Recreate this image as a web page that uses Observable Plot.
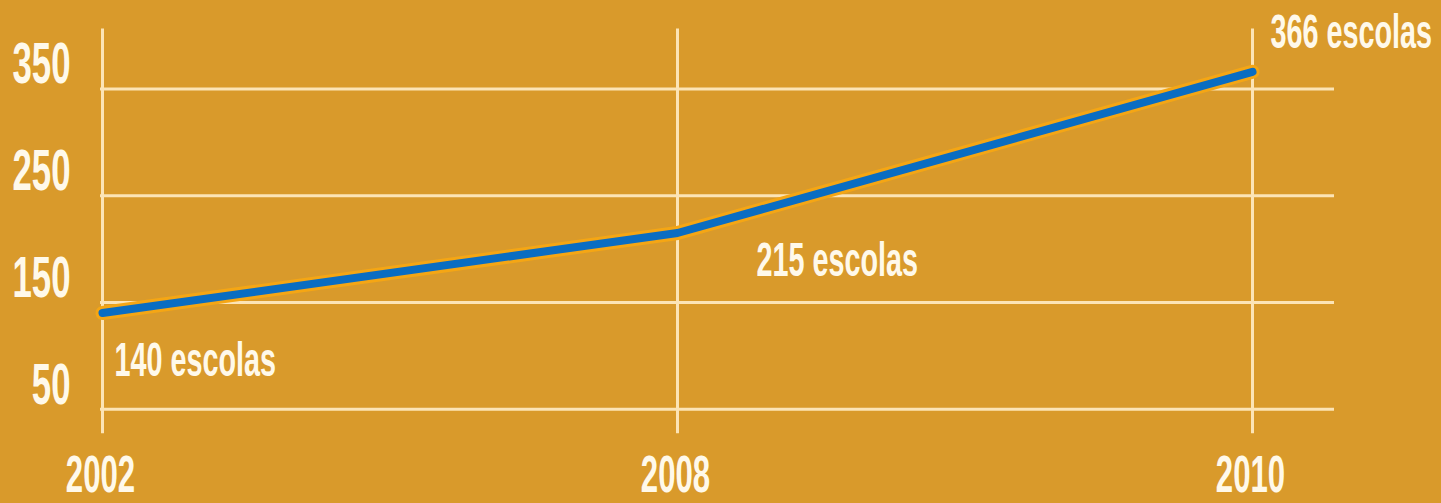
<!DOCTYPE html>
<html><head><meta charset="utf-8">
<script src="https://cdn.jsdelivr.net/npm/d3@7"></script>
<script src="https://cdn.jsdelivr.net/npm/@observablehq/plot@0.6"></script>
<style>
html,body{margin:0;padding:0;background:#d99a2b;overflow:hidden;}
</style></head><body>
<div id="chart"></div>
<script>
// ---- data ----
const years = ["2002", "2008", "2010"];
const schools = [140, 215, 366];
const annotations = ["140 escolas", "215 escolas", "366 escolas"];
const yTicks = [50, 150, 250, 350];
const yTickLabels = ["50", "150", "250", "350"];

const data = years.map((year, i) => ({year, value: schools[i], label: annotations[i]}));
const ticks = yTicks.map((v, i) => ({value: v, label: yTickLabels[i]}));

const font = "'Liberation Sans', Arial, sans-serif";
const textColor = "#fff9ea";
const gridColor = "#fce4b6";

const annText = (i, dx, dy) => Plot.text([data[i]], {
  x: "year", y: "value", text: "label", textAnchor: "start", lineAnchor: "middle",
  dx, dy, fontSize: 48, fontWeight: "bold", fill: textColor
});

const plot = Plot.plot({
  width: 1441, height: 503,
  marginLeft: 101, marginRight: 189, marginTop: 35, marginBottom: 41,
  style: {background: "#d99a2b", fontFamily: font, overflow: "visible"},
  x: {type: "point", domain: years, padding: 0, axis: null},
  y: {domain: [0, 400], axis: null},
  marks: [
    Plot.ruleY(ticks, {y: "value", stroke: gridColor, strokeWidth: 3, insetLeft: -1, insetRight: -82}),
    Plot.ruleX(years, {x: d => d, y1: 27, y2: 406, stroke: gridColor, strokeWidth: 3}),
    Plot.line(data, {x: "year", y: "value", stroke: "#f5a614", strokeWidth: 14}),
    Plot.line(data, {x: "year", y: "value", stroke: "#0a6dc2", strokeWidth: 8}),
    Plot.text(ticks, {y: "value", text: "label", frameAnchor: "left", dx: -31, dy: -24,
      textAnchor: "end", lineAnchor: "middle", fontSize: 58, fontWeight: "bold", fill: textColor}),
    Plot.text(years, {x: d => d, text: d => d, frameAnchor: "bottom", dx: -2, dy: 13,
      textAnchor: "middle", lineAnchor: "middle", fontSize: 52, fontWeight: "bold", fill: textColor}),
    annText(0, 12, 48),
    annText(1, 79, 28),
    annText(2, 18, -39)
  ]
});
document.getElementById("chart").appendChild(plot);

// condensed look: squeeze glyphs horizontally around each text's anchor
const probe = d3.select(plot).append("text")
  .attr("font-family", font).attr("font-weight", "bold").attr("font-size", 100).text("0");
const zeroW = probe.node().getComputedTextLength() || 55.6;
probe.remove();
const k = 0.6 * 55.6 / zeroW;
const svgns = "http://www.w3.org/2000/svg";
plot.querySelectorAll("text").forEach(t => {
  const anchor = getComputedStyle(t).textAnchor;
  const g = document.createElementNS(svgns, "g");
  t.parentNode.insertBefore(g, t);
  g.appendChild(t);
  g.style.transformBox = "fill-box";
  g.style.transformOrigin = anchor === "end" ? "right center" : anchor === "middle" ? "center center" : "left center";
  g.style.transform = `scaleX(${k})`;
});
</script>
</body></html>
